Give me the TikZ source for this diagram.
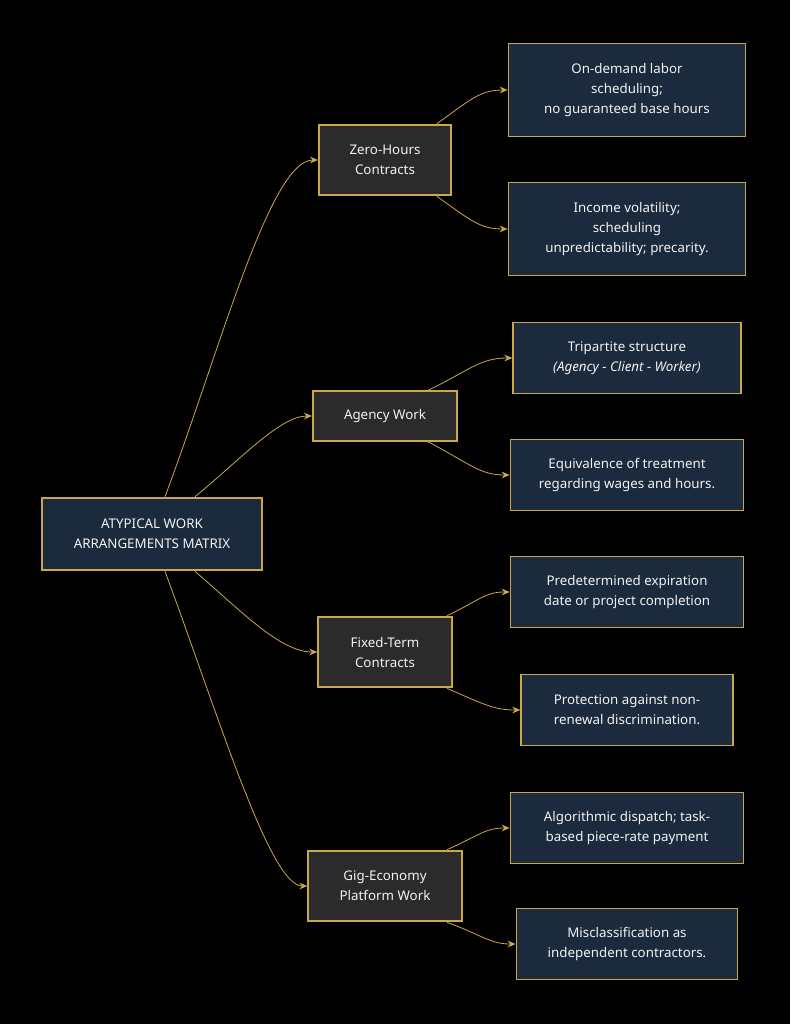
\documentclass[tikz,border=0pt]{standalone}
\usepackage{fontspec}
\setmainfont{Noto Sans}
\usetikzlibrary{arrows.meta}
\definecolor{gold}{HTML}{C9A84C}
\definecolor{navy}{HTML}{1C2A3E}
\definecolor{dgrey}{HTML}{2B2B2B}
\definecolor{txt}{HTML}{F2F2F2}
\begin{document}
\begin{tikzpicture}[x=0.75pt,y=-0.75pt,
 box/.style={draw=gold,line width=1pt,text=txt,align=center,font=\fontsize{10}{15}\selectfont,inner sep=0pt},
 root/.style={box,fill=navy,line width=2pt,font=\bfseries\fontsize{10}{15}\selectfont},
 mid/.style={box,fill=dgrey,line width=1.5pt,font=\bfseries\fontsize{10}{15}\selectfont},
 leaf/.style={box,fill=navy},
 edge/.style={draw=gold,line width=0.6pt,-{Stealth[length=6pt,width=5pt]}}]
\fill[black] (0,0) rectangle (790,1024);
\node[root,minimum width=165pt,minimum height=54pt] (r) at (152,534) {ATYPICAL WORK\\ARRANGEMENTS MATRIX};
\node[mid,minimum width=99pt,minimum height=53pt] (zh) at (385,160) {Zero-Hours\\Contracts};
\node[mid,minimum width=108pt,minimum height=37pt] (ag) at (385,416) {Agency Work};
\node[mid,minimum width=100pt,minimum height=53pt] (ft) at (385,652) {Fixed-Term\\Contracts};
\node[mid,minimum width=115pt,minimum height=53pt] (gig) at (385,886) {Gig-Economy\\Platform Work};
\node[leaf,minimum width=178pt,minimum height=70pt] (l1) at (627,90) {On-demand labor\\scheduling;\\no guaranteed base hours};
\node[leaf,minimum width=178pt,minimum height=70pt] (l2) at (627,229) {Income volatility;\\scheduling\\unpredictability; precarity.};
\node[leaf,minimum width=171pt,minimum height=53pt] (l3) at (627,358) {Tripartite structure\\\textit{(Agency - Client - Worker)}};
\node[leaf,minimum width=175pt,minimum height=53pt] (l4) at (627,475) {Equivalence of treatment\\regarding wages and hours.};
\node[leaf,minimum width=175pt,minimum height=53pt] (l5) at (627,592) {Predetermined expiration\\date or project completion};
\node[leaf,minimum width=159pt,minimum height=53pt] (l6) at (627,710) {Protection against non-\\renewal discrimination.};
\node[leaf,minimum width=175pt,minimum height=53pt] (l7) at (627,828) {Algorithmic dispatch; task-\\based piece-rate payment};
\node[leaf,minimum width=166pt,minimum height=53pt] (l8) at (627,944) {Misclassification as\\independent contractors.};
\draw[edge] (r.north)++(13,0) .. controls (220,350) and (270,160) .. (zh.west);
\draw[edge] (r.north)++(43,0) .. controls (240,460) and (280,416) .. (ag.west);
\draw[edge] (r.south)++(43,0) .. controls (240,610) and (280,652) .. (ft.west);
\draw[edge] (r.south)++(13,0) .. controls (220,720) and (270,886) .. (gig.west);
\draw[edge] (zh.north)++(52,0) .. controls (470,100) and (480,90) .. (l1.west);
\draw[edge] (zh.south)++(52,0) .. controls (470,220) and (480,229) .. (l2.west);
\draw[edge] (ag.north)++(43,0) .. controls (470,370) and (480,358) .. (l3.west);
\draw[edge] (ag.south)++(43,0) .. controls (470,464) and (480,475) .. (l4.west);
\draw[edge] (ft.north)++(62,0) .. controls (480,600) and (485,592) .. (l5.west);
\draw[edge] (ft.south)++(62,0) .. controls (485,705) and (495,710) .. (l6.west);
\draw[edge] (gig.north)++(62,0) .. controls (480,835) and (485,828) .. (l7.west);
\draw[edge] (gig.south)++(62,0) .. controls (482,935) and (490,944) .. (l8.west);
\end{tikzpicture}
\end{document}
